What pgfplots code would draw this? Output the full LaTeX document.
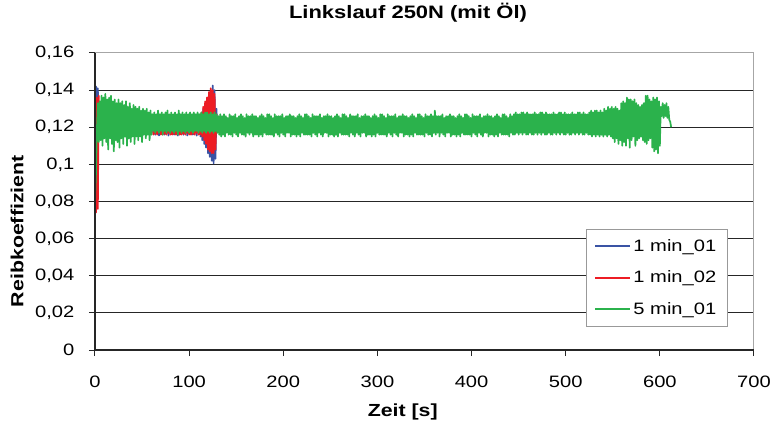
\documentclass[border=0pt]{standalone}
\usepackage{fontspec}
\setmainfont{Liberation Sans}[FakeStretch=1.22]
\usepackage{pgfplots}
\pgfplotsset{compat=1.18}

\definecolor{serblue}{HTML}{3A53A4}
\definecolor{serred}{HTML}{ED1C24}
\definecolor{sergreen}{HTML}{2BB24C}

\begin{document}
\fontsize{16.5bp}{20bp}\selectfont
\begin{tikzpicture}
\useasboundingbox (-95bp,-77bp) rectangle (681bp,350bp);
\begin{axis}[
    scale only axis,
    width=659bp, height=297bp,
    clip=false,
    xmin=0, xmax=700, ymin=0, ymax=0.16,
    xtick={0,100,...,700},
    ytick={0,0.02,...,0.14},
    extra y ticks={0.16},
    extra y tick style={grid=none},
    ymajorgrids,
    grid style={black!85, line width=1bp},
    axis line style={draw=gray!70, line width=1bp},
    tick align=outside,
    major tick length=6bp,
    tick style={black!85, line width=1bp},
    xtick pos=bottom, ytick pos=left,
    xticklabel style={yshift=-14bp},
    yticklabel style={xshift=-9bp},
    /pgf/number format/.cd, use comma, fixed, precision=2, assume math mode=true,
    /pgfplots/.cd,
    legend style={at={(0.959,0.4074)}, anchor=north east,
        draw=gray!80, fill=white, inner xsep=8.5bp, inner ysep=6bp, row sep=9bp,
        nodes={inner xsep=2bp, inner ysep=4bp}},
    legend cell align=left,
    legend image code/.code={\draw[#1, line width=2bp] (0bp,0bp) -- (35bp,0bp);},
    every axis plot/.append style={line width=1.7bp, line join=round},
]
% 1 min_01
\addplot[serblue, no marks] table[x expr=\coordindex, y index=0, header=false, row sep=\\] {
0.080\\0.142\\0.090\\0.141\\0.118\\0.126\\
0.127\\0.117\\0.126\\0.118\\0.127\\0.116\\0.126\\0.117\\0.127\\0.118\\
0.127\\0.117\\0.126\\0.118\\0.127\\0.116\\0.126\\0.117\\0.127\\0.118\\
0.127\\0.117\\0.126\\0.118\\0.127\\0.116\\0.126\\0.117\\0.127\\0.118\\
0.127\\0.117\\0.126\\0.118\\0.127\\0.116\\0.126\\0.117\\0.127\\0.118\\
0.127\\0.117\\0.126\\0.118\\0.127\\0.116\\0.126\\0.117\\0.127\\0.118\\
0.126\\0.117\\0.127\\0.118\\0.126\\
0.124\\0.117\\0.125\\0.116\\0.124\\0.117\\0.125\\0.1155\\0.124\\0.117\\
0.124\\0.117\\0.125\\0.116\\0.124\\0.117\\0.125\\0.1155\\0.124\\0.117\\
0.124\\0.117\\0.125\\0.116\\0.124\\0.117\\0.125\\0.1155\\0.124\\0.117\\
0.124\\0.117\\0.125\\0.116\\0.124\\0.117\\0.125\\0.1155\\0.124\\0.117\\
0.124\\0.117\\0.125\\0.116\\0.124\\0.117\\0.125\\0.1155\\0.124\\0.117\\
0.124\\0.115\\0.127\\0.113\\0.130\\0.111\\0.133\\0.109\\0.135\\0.106\\
0.137\\0.104\\0.139\\0.102\\0.1425\\0.1005\\0.140\\0.103\\0.130\\0.118\\
};
\addlegendentry{1 min\_01}
% 1 min_02
\addplot[serred, no marks] table[x expr=\coordindex, y index=0, header=false, row sep=\\] {
0.078\\0.074\\0.136\\0.076\\0.137\\0.117\\
0.126\\0.118\\0.125\\0.117\\0.126\\0.118\\0.125\\0.117\\0.126\\0.118\\
0.126\\0.118\\0.125\\0.117\\0.126\\0.118\\0.125\\0.117\\0.126\\0.118\\
0.126\\0.118\\0.125\\0.117\\0.126\\0.118\\0.125\\0.117\\0.126\\0.118\\
0.126\\0.118\\0.125\\0.117\\0.126\\0.118\\0.125\\0.117\\0.126\\0.118\\
0.126\\0.118\\0.125\\0.117\\0.126\\0.118\\0.125\\0.117\\0.126\\0.118\\
0.125\\0.117\\0.126\\0.118\\0.125\\
0.124\\0.116\\0.123\\0.1165\\0.124\\0.116\\0.123\\0.117\\0.124\\0.116\\
0.124\\0.116\\0.123\\0.1165\\0.124\\0.116\\0.123\\0.117\\0.124\\0.116\\
0.124\\0.116\\0.123\\0.1165\\0.124\\0.116\\0.123\\0.117\\0.124\\0.116\\
0.124\\0.116\\0.123\\0.1165\\0.124\\0.116\\0.123\\0.117\\0.124\\0.116\\
0.124\\0.116\\0.123\\0.1165\\0.124\\0.116\\0.123\\0.117\\0.124\\0.116\\
0.124\\0.116\\0.128\\0.115\\0.131\\0.113\\0.134\\0.111\\0.136\\0.108\\
0.139\\0.107\\0.141\\0.106\\0.140\\0.106\\0.138\\0.108\\0.127\\0.119\\
};
\addlegendentry{1 min\_02}
% 5 min_01
\addplot[sergreen, no marks] table[x expr=\coordindex, y index=0, header=false, row sep=\\] {
0.079\\0.095\\0.118\\0.133\\0.112\\
0.134\\0.113\\0.137\\0.110\\0.136\\0.114\\0.138\\0.112\\0.135\\0.108\\
0.136\\0.114\\0.137\\0.111\\0.134\\0.107\\0.135\\0.113\\0.133\\0.112\\
0.135\\0.109\\0.133\\0.114\\0.134\\0.111\\0.132\\0.115\\0.134\\0.110\\
0.131\\0.114\\0.133\\0.112\\0.130\\0.115\\0.132\\0.111\\0.131\\0.115\\
0.130\\0.113\\0.131\\0.115\\0.129\\0.112\\0.130\\0.116\\0.129\\0.114\\
0.130\\0.116\\0.128\\0.113\\0.129\\0.116\\0.127\\0.118\\0.128\\0.117\\
0.127\\0.118\\0.129\\0.117\\0.127\\0.118\\0.128\\0.116\\0.127\\0.118\\
0.128\\0.117\\0.129\\0.118\\0.127\\0.117\\0.128\\0.118\\0.127\\0.117\\
0.128\\0.118\\0.127\\0.116\\0.129\\0.118\\0.127\\0.117\\0.128\\0.118\\
0.127\\0.117\\0.128\\0.118\\0.127\\0.117\\0.128\\0.118\\0.127\\0.117\\
0.128\\0.118\\0.127\\0.118\\0.128\\0.117\\0.127\\0.118\\0.128\\0.117\\
0.127\\0.118\\0.128\\0.117\\0.128\\0.118\\0.127\\0.117\\0.128\\0.118\\
0.127\\0.117\\0.128\\0.118\\0.127\\0.117\\0.126\\0.116\\0.127\\0.115\\
0.126\\0.116\\0.127\\0.115\\0.126\\0.117\\0.125\\0.116\\0.127\\0.116\\
0.126\\0.115\\0.126\\0.117\\0.127\\0.116\\0.125\\0.115\\0.126\\0.117\\
0.127\\0.116\\0.126\\0.116\\0.125\\0.115\\0.127\\0.117\\0.126\\0.116\\
0.126\\0.117\\0.127\\0.115\\0.126\\0.116\\0.126\\0.116\\0.125\\0.115\\
0.126\\0.116\\0.127\\0.115\\0.126\\0.117\\0.125\\0.116\\0.127\\0.116\\
0.127\\0.116\\0.126\\0.116\\0.125\\0.115\\0.127\\0.117\\0.126\\0.116\\
0.126\\0.115\\0.126\\0.117\\0.127\\0.116\\0.125\\0.115\\0.126\\0.117\\
0.126\\0.117\\0.127\\0.115\\0.126\\0.116\\0.126\\0.116\\0.125\\0.115\\
0.126\\0.116\\0.127\\0.115\\0.126\\0.117\\0.125\\0.116\\0.127\\0.116\\
0.127\\0.116\\0.126\\0.116\\0.125\\0.115\\0.127\\0.117\\0.126\\0.116\\
0.126\\0.115\\0.126\\0.117\\0.127\\0.116\\0.125\\0.115\\0.126\\0.117\\
0.126\\0.117\\0.127\\0.115\\0.126\\0.116\\0.126\\0.116\\0.125\\0.115\\
0.126\\0.116\\0.127\\0.115\\0.126\\0.117\\0.125\\0.116\\0.127\\0.116\\
0.127\\0.116\\0.126\\0.116\\0.125\\0.115\\0.127\\0.117\\0.126\\0.116\\
0.126\\0.115\\0.126\\0.117\\0.127\\0.116\\0.125\\0.115\\0.126\\0.117\\
0.126\\0.117\\0.127\\0.115\\0.126\\0.116\\0.126\\0.116\\0.125\\0.115\\
0.126\\0.116\\0.127\\0.115\\0.126\\0.117\\0.125\\0.116\\0.127\\0.116\\
0.127\\0.116\\0.126\\0.116\\0.125\\0.115\\0.127\\0.117\\0.126\\0.116\\
0.126\\0.115\\0.126\\0.117\\0.127\\0.116\\0.125\\0.115\\0.126\\0.117\\
0.126\\0.117\\0.127\\0.115\\0.126\\0.116\\0.126\\0.116\\0.125\\0.115\\
0.126\\0.116\\0.127\\0.115\\0.126\\0.117\\0.125\\0.116\\0.127\\0.116\\
0.127\\0.116\\0.126\\0.116\\0.125\\0.115\\0.127\\0.117\\0.126\\0.116\\
0.126\\0.116\\0.127\\0.115\\0.126\\0.117\\0.129\\0.116\\0.126\\0.117\\
0.126\\0.115\\0.126\\0.117\\0.127\\0.116\\0.125\\0.115\\0.126\\0.117\\
0.126\\0.117\\0.127\\0.115\\0.126\\0.116\\0.126\\0.116\\0.125\\0.115\\
0.126\\0.116\\0.127\\0.115\\0.126\\0.117\\0.125\\0.116\\0.127\\0.116\\
0.127\\0.116\\0.126\\0.116\\0.125\\0.115\\0.127\\0.117\\0.126\\0.116\\
0.126\\0.115\\0.126\\0.117\\0.127\\0.116\\0.125\\0.115\\0.126\\0.117\\
0.126\\0.117\\0.127\\0.115\\0.126\\0.116\\0.126\\0.116\\0.125\\0.115\\
0.126\\0.116\\0.127\\0.115\\0.126\\0.117\\0.125\\0.116\\0.127\\0.116\\
0.127\\0.116\\0.126\\0.116\\0.125\\0.115\\0.127\\0.117\\0.126\\0.116\\
0.127\\0.116\\0.128\\0.117\\0.127\\0.116\\0.127\\0.117\\0.128\\0.116\\
0.128\\0.117\\0.127\\0.116\\0.128\\0.116\\0.127\\0.117\\0.127\\0.116\\
0.127\\0.116\\0.128\\0.117\\0.127\\0.116\\0.127\\0.117\\0.128\\0.116\\
0.128\\0.117\\0.127\\0.116\\0.128\\0.116\\0.127\\0.117\\0.127\\0.116\\
0.127\\0.116\\0.128\\0.117\\0.127\\0.116\\0.127\\0.117\\0.128\\0.116\\
0.128\\0.117\\0.127\\0.116\\0.128\\0.116\\0.127\\0.117\\0.127\\0.116\\
0.127\\0.116\\0.128\\0.117\\0.127\\0.116\\0.127\\0.117\\0.128\\0.116\\
0.128\\0.117\\0.127\\0.116\\0.128\\0.116\\0.127\\0.117\\0.127\\0.116\\
0.128\\0.116\\0.129\\0.115\\0.128\\0.116\\0.129\\0.115\\0.129\\0.116\\
0.128\\0.115\\0.129\\0.116\\0.128\\0.115\\0.130\\0.116\\0.129\\0.115\\
0.131\\0.116\\0.130\\0.115\\0.131\\0.114\\0.130\\0.112\\0.131\\0.114\\
0.130\\0.111\\0.129\\0.113\\0.133\\0.110\\0.134\\0.112\\0.133\\0.110\\
0.136\\0.114\\0.135\\0.109\\0.135\\0.113\\0.134\\0.115\\0.135\\0.110\\
0.133\\0.113\\0.132\\0.114\\0.131\\0.115\\0.132\\0.113\\0.133\\0.112\\
0.137\\0.111\\0.137\\0.113\\0.135\\0.114\\0.134\\0.109\\0.136\\0.107\\
0.135\\0.108\\0.136\\0.106\\0.134\\0.110\\0.131\\0.126\\0.133\\0.125\\
0.132\\0.126\\0.133\\0.125\\0.131\\0.124\\0.123\\0.120\\
};
\addlegendentry{5 min\_01}
\draw[black!85, line width=1.3bp] (rel axis cs:0,1) -- (rel axis cs:0,0) -- (rel axis cs:1,0);
\node[anchor=base, font=\bfseries\fontsize{18bp}{21bp}\selectfont, yshift=34.7bp] at (rel axis cs:0.475,1) {Linkslauf 250N (mit Öl)};
\node[anchor=base, font=\bfseries\fontsize{17.5bp}{21bp}\selectfont, yshift=-66bp] at (rel axis cs:0.467,0) {Zeit [s]};
\node[xshift=-78bp, rotate=90, font=\bfseries\fontsize{17.5bp}{21bp}\selectfont] at (rel axis cs:0,0.40) {Reibkoeffizient};
\end{axis}
\end{tikzpicture}
\end{document}
